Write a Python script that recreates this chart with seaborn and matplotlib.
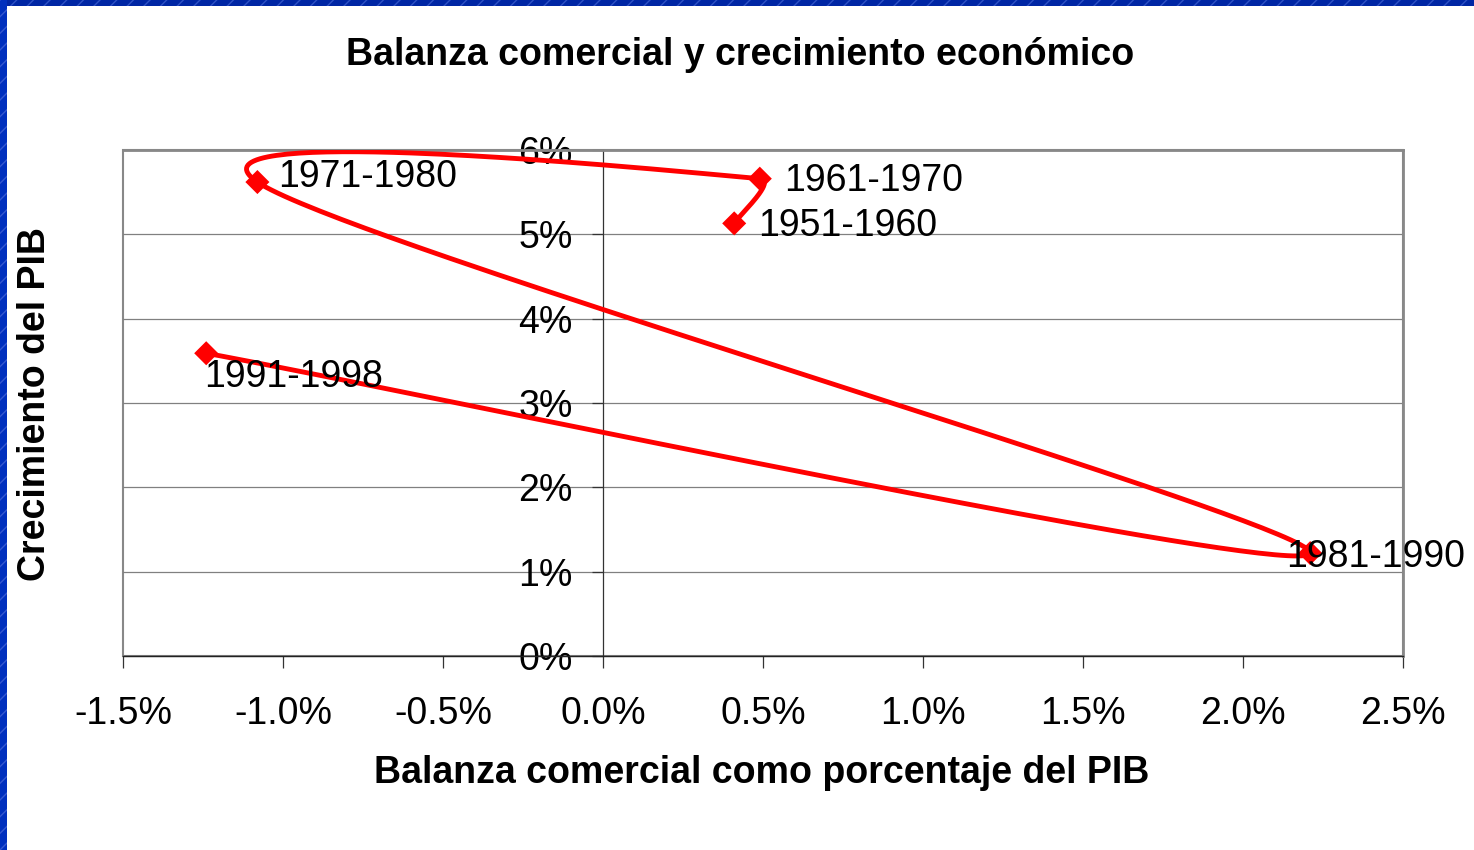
import numpy as np
import pandas as pd
import matplotlib
matplotlib.use("Agg")
import matplotlib.pyplot as plt
from matplotlib.patches import Rectangle
from matplotlib.ticker import FuncFormatter
import seaborn as sns

# ---- data ----
periods = ["1951-1960", "1961-1970", "1971-1980", "1981-1990", "1991-1998"]
trade_balance = [0.41, 0.49, -1.08, 2.21, -1.24]   # % of GDP
gdp_growth = [5.13, 5.66, 5.62, 1.22, 3.59]         # %
x_ticks = [-1.5, -1.0, -0.5, 0.0, 0.5, 1.0, 1.5, 2.0, 2.5]
y_ticks = [0, 1, 2, 3, 4, 5, 6]

title = "Balanza comercial y crecimiento económico"
xlabel = "Balanza comercial como porcentaje del PIB"
ylabel = "Crecimiento del PIB"

# label offsets (pixels) relative to markers, baseline aligned
label_offsets = [(24, -13), (24, -12), (21, -5), (-24, -14), (-2, -34)]

sns.set_theme(style="white")
plt.rcParams["font.family"] = ["Liberation Sans", "DejaVu Sans"]

W, H = 1474, 850
fig = plt.figure(figsize=(W / 100, H / 100), dpi=100)
fig.patch.set_facecolor("white")

# blue slide frame
fig.patches.append(Rectangle((0, 1 - 6 / H), 1, 6 / H, transform=fig.transFigure,
                             facecolor="#0026A4", edgecolor="#2F52C4", hatch="//",
                             linewidth=0, zorder=0))
fig.patches.append(Rectangle((0, 0), 7 / W, 1, transform=fig.transFigure,
                             facecolor="#0030BE", edgecolor="#3558D0", hatch="//",
                             linewidth=0, zorder=0))

ax = fig.add_axes([123 / W, (H - 656) / H, (1403 - 123) / W, (656 - 150) / H])
ax.set_xlim(x_ticks[0], x_ticks[-1])
ax.set_ylim(y_ticks[0], y_ticks[-1])
ax.set_xticks(x_ticks)
ax.set_yticks(y_ticks)
ax.xaxis.set_major_formatter(FuncFormatter(lambda v, p: f"{v:.1f}%"))
ax.yaxis.set_major_formatter(FuncFormatter(lambda v, p: f"{v:.0f}%"))

# spines
ax.spines["left"].set_position(("data", 0))
ax.spines["left"].set_color("#333333")
ax.spines["left"].set_linewidth(0.9)
ax.spines["bottom"].set_color("#222222")
ax.spines["bottom"].set_linewidth(1.0)
for s in ("top", "right"):
    ax.spines[s].set_color("#888888")
    ax.spines[s].set_linewidth(2.0)
ax.add_patch(Rectangle((0, 0), 1, 1, transform=ax.transAxes, fill=False,
                       edgecolor="#888888", linewidth=1.5, clip_on=False, zorder=0.5))

ax.grid(axis="y", color="#808080", linewidth=0.9)
ax.grid(axis="x", visible=False)
ax.set_axisbelow(True)

ax.tick_params(axis="x", direction="out", length=8.6, width=0.9, color="#333333",
               pad=20, labelsize=27, labelcolor="black", bottom=True)
ax.tick_params(axis="y", direction="out", length=8, width=0.9, color="#333333",
               pad=14, labelsize=27, labelcolor="black", left=True)

# Excel-like smoothed curve through the points (Bezier, tension 1/6, in display space)
def smooth_path(ax, xs, ys, n=80):
    pts = ax.transData.transform(np.column_stack([xs, ys]))
    N = len(pts)
    out = [pts[0]]
    for i in range(N - 1):
        p0 = pts[i - 1] if i > 0 else pts[i]
        p1, p2 = pts[i], pts[i + 1]
        p3 = pts[i + 2] if i + 2 < N else pts[i + 1]
        seg = np.linalg.norm(p2 - p1)
        t1 = (p2 - p0) / 6.0
        t2 = (p3 - p1) / 6.0
        lim = 0.35 * seg
        for t in (t1, t2):
            m = np.linalg.norm(t)
            if m > lim:
                t *= lim / m
        c1, c2 = p1 + t1, p2 - t2
        tt = np.linspace(0, 1, n)[1:, None]
        b = ((1 - tt) ** 3) * p1 + 3 * ((1 - tt) ** 2) * tt * c1 \
            + 3 * (1 - tt) * (tt ** 2) * c2 + (tt ** 3) * p2
        out.extend(b)
    return ax.transData.inverted().transform(np.array(out))

curve = smooth_path(ax, np.array(trade_balance), np.array(gdp_growth))
curve_df = pd.DataFrame({"x": curve[:, 0], "y": curve[:, 1], "i": np.arange(len(curve))})
sns.lineplot(data=curve_df, x="x", y="y", sort=False, estimator=None, ax=ax,
             color="#FF0000", linewidth=3.5, zorder=3)

pts_df = pd.DataFrame({"x": trade_balance, "y": gdp_growth, "period": periods})
sns.scatterplot(data=pts_df, x="x", y="y", marker="D", s=150, color="#FF0000",
                edgecolor="none", ax=ax, zorder=4, legend=False)

for (px, py, lab), (dx, dy) in zip(zip(trade_balance, gdp_growth, periods), label_offsets):
    ax.annotate(lab, (px, py), xytext=(dx, dy), textcoords="offset pixels",
                ha="left", va="baseline", fontsize=27, color="black", zorder=5,
                annotation_clip=False)

ax.set_xlabel("")
ax.set_ylabel("")

fig.text(740 / W, 1 - 55 / H, title, ha="center", va="center", fontsize=27,
         fontweight="bold", color="black")
fig.text(762 / W, 1 - 773 / H, xlabel, ha="center", va="center", fontsize=27,
         fontweight="bold", color="black")
fig.text(35 / W, 1 - 404 / H, ylabel, ha="center", va="center", fontsize=27,
         fontweight="bold", color="black", rotation=90)

fig.savefig("out.png", dpi=100, facecolor="white")
